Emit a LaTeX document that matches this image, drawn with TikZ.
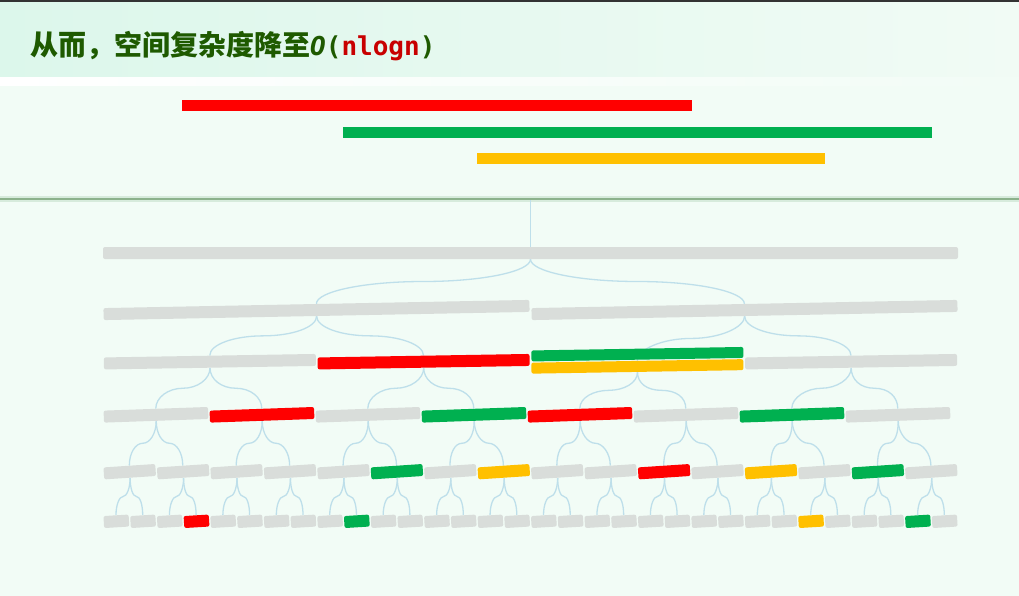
\documentclass[tikz,border=0pt]{standalone}
\usepackage{fontspec}
\usepackage{xcolor}
\usetikzlibrary{calc, backgrounds}
\newfontfamily\cjk{Noto Sans CJK SC}
\newfontfamily\mono{DejaVu Sans Mono}
\definecolor{fond}{RGB}{242,252,246}
\definecolor{bandeau}{RGB}{220,247,235}
\definecolor{bandeauClair}{RGB}{241,251,245}
\definecolor{griFonce}{RGB}{51,51,51}
\definecolor{vertTitre}{RGB}{30,90,0}
\definecolor{rougeTitre}{RGB}{200,0,0}
\definecolor{rouge}{RGB}{255,0,0}
\definecolor{vert}{RGB}{0,176,80}
\definecolor{jaune}{RGB}{255,192,0}
\definecolor{gris}{RGB}{217,221,218}
\definecolor{bleuLien}{RGB}{190,223,234}
\definecolor{traitPanneau}{RGB}{140,178,140}
\definecolor{halo}{RGB}{215,235,220}

\begin{document}
\begin{tikzpicture}[x=1pt, y=-1pt,
  seg/.style={rectangle, inner sep=0pt, minimum height=10.6pt},
  noeud/.style={rectangle, rounded corners=2pt, inner sep=0pt,
    minimum height=12pt},
  lien/.style={draw=bleuLien, line width=1.3pt},
]
\useasboundingbox (0,0) rectangle (1019,596);
% titre
\node[anchor=west, inner sep=0pt, text=vertTitre] (titre) at (30,46)
  {\cjk\bfseries\fontsize{28}{32}\selectfont 从而，空间复杂度降至%
   {\mono\bfseries\itshape\fontsize{26}{32}\selectfont O}%
   {\mono\bfseries\fontsize{26}{32}\selectfont(\textcolor{rougeTitre}{nlogn})}};
% les trois intervalles
\node[seg, fill=rouge, minimum width=510pt] (intRouge) at (437,105.3) {};
\node[seg, fill=vert,  minimum width=589pt] (intVert)  at (637.5,132.3) {};
\node[seg, fill=jaune, minimum width=348pt] (intJaune) at (651,158.8) {};
% arbre des segments
\node[noeud, fill=gris, minimum width=855pt] (n0-1) at (530.5,253) {};
\node[noeud, fill=gris, minimum width=426pt, rotate=1.1] (n1-1) at (316.5,310) {};
\node[noeud, fill=gris, minimum width=426pt, rotate=1.1] (n1-2) at (744.5,310) {};
\node[noeud, fill=gris,  minimum width=212pt, rotate=0.95] (n2-1)  at (209.9,361.7) {};
\node[noeud, fill=rouge, minimum width=212pt, rotate=0.95] (n2-2)  at (423.6,361.7) {};
\node[noeud, fill=jaune, minimum width=212pt, minimum height=11pt,
  rotate=0.95] (n2-3) at (637.4,366.4) {};
\node[noeud, fill=vert,  minimum width=212pt, minimum height=11pt,
  rotate=0.95] (n2-3h) at (637.4,354.2) {};
\node[noeud, fill=gris,  minimum width=212pt, rotate=0.95] (n2-4)  at (851.1,361.7) {};
\foreach \c [count=\i] in {gris,rouge,gris,vert,rouge,gris,vert,gris}
  \node[noeud, fill=\c, minimum width=104.5pt, rotate=2]
    (n3-\i) at ({103+(\i-0.5)*106},414.8) {};
\foreach \c [count=\i] in {gris,gris,gris,gris,gris,vert,gris,jaune,
                           gris,gris,rouge,gris,jaune,gris,vert,gris}
  \node[noeud, fill=\c, minimum width=51.9pt, rotate=3.8]
    (n4-\i) at ({103+(\i-0.5)*53.44},471.7) {};
\foreach \c [count=\i] in {gris,gris,gris,rouge,gris,gris,gris,gris,
                           gris,vert,gris,gris,gris,gris,gris,gris,
                           gris,gris,gris,gris,gris,gris,gris,gris,
                           gris,gris,jaune,gris,gris,gris,vert,gris}
  \node[noeud, fill=\c, minimum width=25.2pt, rotate=3.5]
    (n5-\i) at ({103+(\i-0.5)*26.72},521.3) {};
\coordinate (panelBas) at (530.5,200);
\begin{pgfonlayer}{background}
  \fill[fond] (0,0) rectangle (1019,596);
  \fill[left color=bandeau, right color=bandeauClair] (0,2) rectangle (1019,78);
  \fill[griFonce] (0,0) rectangle (1019,2);
  \fill[left color=white, right color=fond] (0,78) rectangle (1019,86);
  \fill[halo] (0,196) rectangle (1019,202);
  \draw[traitPanneau, line width=1.2pt] (0,199) -- (1019,199);
  % liens
  \draw[lien] (panelBas) -- (n0-1.north);
  \foreach \k/\n/\dx/\dy in {1/2/106.9/22.5, 2/4/53.4/20, 3/8/26.7/20.5,
                             4/16/13.4/22.5, 5/32/6.7/18.6}
    \foreach \i in {1,...,\n} {
      \pgfmathtruncatemacro{\km}{\k-1}
      \pgfmathtruncatemacro{\p}{(\i+1)/2}
      \pgfmathsetmacro{\a}{180*(1-mod(\i,2))}
      \pgfmathsetmacro{\b}{180*mod(\i,2)}
      \pgfmathsetmacro{\od}{0.55*\dy}
      \pgfmathsetmacro{\id}{0.55*\dx}
      \draw[lien] (n\km-\p.south)
        to[out=-90, in=\a, out distance=\od pt, in distance=\id pt]
        ($(n\km-\p.south)!0.5!(n\k-\i.north)$)
        to[out=\b, in=90, out distance=\id pt, in distance=\od pt]
        (n\k-\i.north);
    }
\end{pgfonlayer}
\end{tikzpicture}
\end{document}
